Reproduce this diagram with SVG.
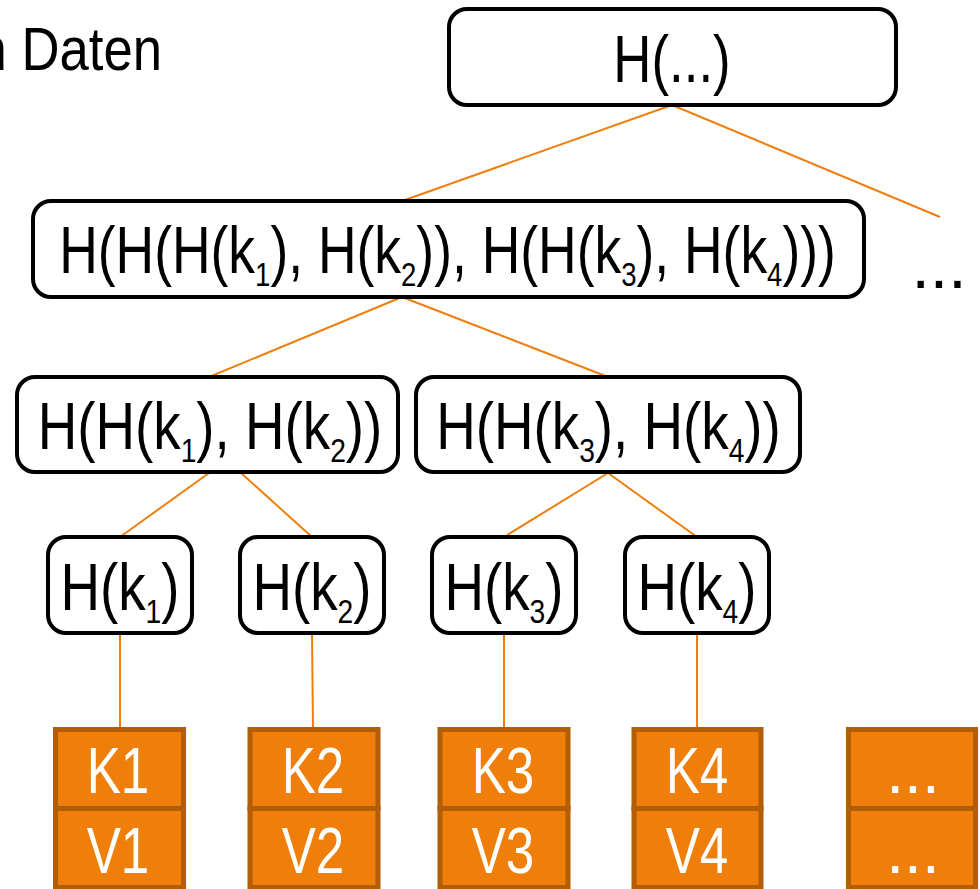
<svg xmlns="http://www.w3.org/2000/svg" width="980" height="889" viewBox="0 0 980 889">
<style>
.nb{fill:#fff;stroke:#000;stroke-width:4}
.t{font-family:"Liberation Sans",Arial,sans-serif;font-size:66px;fill:#000;text-anchor:middle}
.s{font-size:34px}
.kv{fill:#EF7F0A;stroke:#B25D07;stroke-width:5}
.kt{font-family:"Liberation Sans",Arial,sans-serif;font-size:64px;fill:#fff;text-anchor:middle}
.ln{stroke:#EE7F0E;stroke-width:2;fill:none}
</style>
<rect width="980" height="889" fill="#fff"/>
<text style="font-family:'Liberation Sans',Arial,sans-serif;font-size:62px;fill:#000;text-anchor:end" transform="translate(162,70) scale(0.85,1)">n Daten</text>
<g id="connectors">
<line class="ln" x1="672" y1="105" x2="402" y2="201"/>
<line class="ln" x1="672" y1="105" x2="940" y2="217"/>
<line class="ln" x1="402" y1="297" x2="209" y2="377"/>
<line class="ln" x1="402" y1="297" x2="608" y2="377"/>
<line class="ln" x1="209" y1="473" x2="120" y2="537"/>
<line class="ln" x1="241" y1="473" x2="312" y2="537"/>
<line class="ln" x1="608" y1="473" x2="504" y2="537"/>
<line class="ln" x1="608" y1="473" x2="697" y2="537"/>
<line class="ln" x1="120" y1="633" x2="120" y2="729"/>
<line class="ln" x1="312" y1="633" x2="313" y2="729"/>
<line class="ln" x1="504" y1="633" x2="504" y2="729"/>
<line class="ln" x1="697" y1="633" x2="697" y2="729"/>
</g>
<g id="root">
<rect class="nb" x="449" y="9" width="447" height="96" rx="18"/>
<text class="t" transform="translate(672,82) scale(0.8,1)">H(...)</text>
</g>
<g id="level2">
<rect class="nb" x="33" y="201" width="831" height="96" rx="18"/>
<text class="t" transform="translate(447.5,273) scale(0.81,1)">H(H(H(k<tspan class="s" dy="13">1</tspan><tspan dy="-13">), H(k</tspan><tspan class="s" dy="13">2</tspan><tspan dy="-13">)), H(H(k</tspan><tspan class="s" dy="13">3</tspan><tspan dy="-13">), H(k</tspan><tspan class="s" dy="13">4</tspan><tspan dy="-13">)))</tspan></text>
</g>
<text class="t" x="939" y="288">...</text>
<g id="h12">
<rect class="nb" x="17" y="377" width="381" height="95" rx="18"/>
<text class="t" transform="translate(210,449) scale(0.83,1)">H(H(k<tspan class="s" dy="13">1</tspan><tspan dy="-13">), H(k</tspan><tspan class="s" dy="13">2</tspan><tspan dy="-13">))</tspan></text>
</g>
<g id="h34">
<rect class="nb" x="416" y="377" width="384" height="95" rx="18"/>
<text class="t" transform="translate(608.5,449) scale(0.83,1)">H(H(k<tspan class="s" dy="13">3</tspan><tspan dy="-13">), H(k</tspan><tspan class="s" dy="13">4</tspan><tspan dy="-13">))</tspan></text>
</g>
<g id="hk1">
<rect class="nb" x="48" y="537" width="144" height="96" rx="18"/>
<text class="t" transform="translate(120,610) scale(0.83,1)">H(k<tspan class="s" dy="13">1</tspan><tspan dy="-13">)</tspan></text>
</g>
<g id="hk2">
<rect class="nb" x="240" y="537" width="144" height="96" rx="18"/>
<text class="t" transform="translate(312,610) scale(0.83,1)">H(k<tspan class="s" dy="13">2</tspan><tspan dy="-13">)</tspan></text>
</g>
<g id="hk3">
<rect class="nb" x="432" y="537" width="144" height="96" rx="18"/>
<text class="t" transform="translate(504,610) scale(0.83,1)">H(k<tspan class="s" dy="13">3</tspan><tspan dy="-13">)</tspan></text>
</g>
<g id="hk4">
<rect class="nb" x="625" y="537" width="144" height="96" rx="18"/>
<text class="t" transform="translate(697,610) scale(0.83,1)">H(k<tspan class="s" dy="13">4</tspan><tspan dy="-13">)</tspan></text>
</g>
<g id="kv1">
<rect class="kv" x="55.5" y="729.5" width="128" height="79"/>
<rect class="kv" x="55.5" y="808.5" width="128" height="79"/>
<text class="kt" transform="translate(118,793) scale(0.8,1)">K1</text>
<text class="kt" transform="translate(118,873) scale(0.8,1)">V1</text>
</g>
<g id="kv2">
<rect class="kv" x="250" y="729.5" width="128" height="79"/>
<rect class="kv" x="250" y="808.5" width="128" height="79"/>
<text class="kt" transform="translate(313,793) scale(0.8,1)">K2</text>
<text class="kt" transform="translate(313,873) scale(0.8,1)">V2</text>
</g>
<g id="kv3">
<rect class="kv" x="440" y="729.5" width="128" height="79"/>
<rect class="kv" x="440" y="808.5" width="128" height="79"/>
<text class="kt" transform="translate(503,793) scale(0.8,1)">K3</text>
<text class="kt" transform="translate(503,873) scale(0.8,1)">V3</text>
</g>
<g id="kv4">
<rect class="kv" x="634" y="729.5" width="127" height="79"/>
<rect class="kv" x="634" y="808.5" width="127" height="79"/>
<text class="kt" transform="translate(697,793) scale(0.8,1)">K4</text>
<text class="kt" transform="translate(697,873) scale(0.8,1)">V4</text>
</g>
<g id="kv5">
<rect class="kv" x="848.5" y="729.5" width="127" height="79"/>
<rect class="kv" x="848.5" y="808.5" width="127" height="79"/>
<text class="kt" x="913" y="793">...</text>
<text class="kt" x="913" y="873">...</text>
</g>
</svg>
